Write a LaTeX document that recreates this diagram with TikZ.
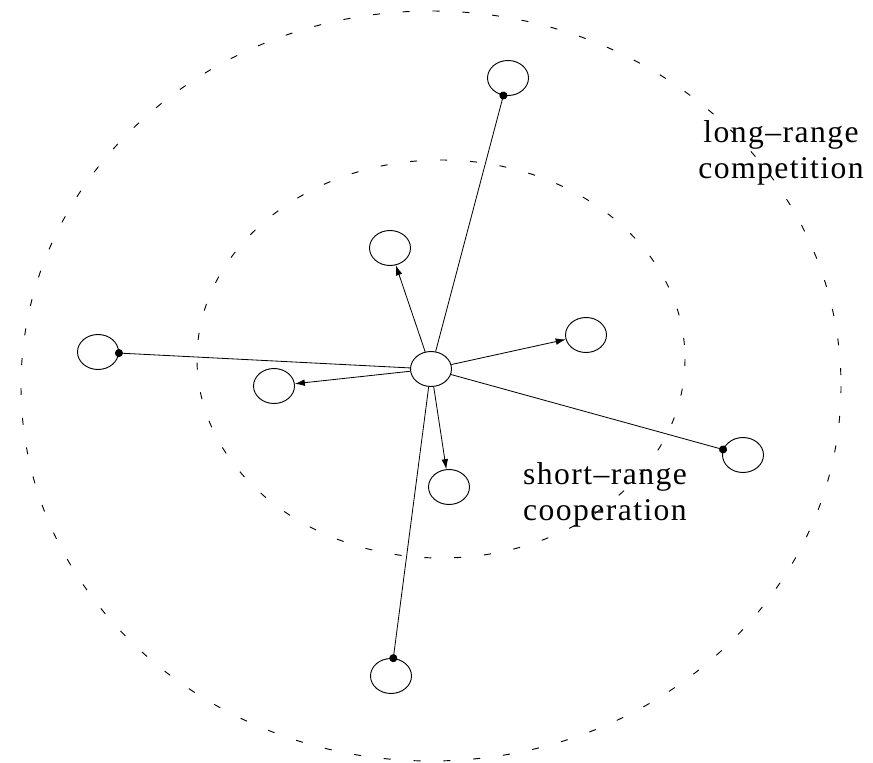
\documentclass[tikz,border=0pt]{standalone}
\usepackage{fontspec}
\setmainfont{Liberation Serif}
\newfontfamily\rangefont[LetterSpace=4.5]{Liberation Serif}
\usepackage{tikz}
\usetikzlibrary{arrows.meta,shapes.geometric}

\begin{document}
\begin{tikzpicture}[x=0.03cm, y=-0.03cm,
  site/.style={ellipse, draw, line width=0.8pt, inner sep=0pt,
               minimum width=1.23cm, minimum height=1.05cm},
  zone/.style={line width=0.8pt, dash pattern=on 6pt off 19.5pt},
  reach/.style={line width=0.7pt, -{Circle[length=2.4mm]}, shorten >=-1.2mm},
  pull/.style={line width=0.7pt, -{Latex[length=3mm, width=2mm]}},
  zonetext/.style={font=\rangefont\fontsize{27}{31}\selectfont, align=center}
]
\useasboundingbox (0,0) rectangle (873,763);
% interaction ranges
\draw[zone] (431,386) ellipse [x radius=410, y radius=375];
\draw[zone] (441,359) ellipse [x radius=244, y radius=199];
% sites
\node[site] (c) at (431,369) {};
\node[site] (far1) at (508,78) {};
\node[site] (far2) at (98,352) {};
\node[site] (far3) at (743,455) {};
\node[site] (far4) at (391,676) {};
\node[site] (near1) at (390,248) {};
\node[site] (near2) at (586,335) {};
\node[site] (near3) at (274,386) {};
\node[site] (near4) at (449,487) {};
% links
\draw[reach] (c) -- (far1);
\draw[reach] (c) -- (far2);
\draw[reach] (c) -- (far3);
\draw[reach] (c) -- (far4);
\draw[pull] (c) -- (near1);
\draw[pull] (c) -- (near2);
\draw[pull] (c) -- (near3);
\draw[pull] (c) -- (near4);
\node[zonetext] (longtxt) at (781,153) {long–range\\competition};
\node[zonetext] (shorttxt) at (605,495) {short–range\\cooperation};
\end{tikzpicture}
\end{document}
